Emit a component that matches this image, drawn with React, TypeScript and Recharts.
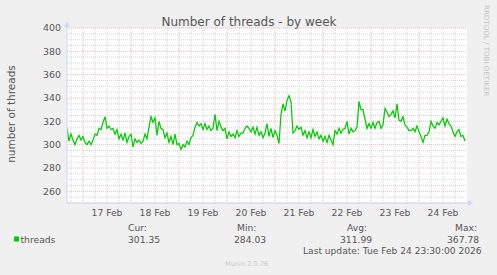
import React from 'react';
import { LineChart, Line, XAxis, YAxis, CartesianGrid, ReferenceDot } from 'recharts';

// hours relative to 17 Feb 00:00, one sample per hour
const firstHour = -8;
const threadValues = [
  314, 303, 309, 304, 300, 305, 308, 304, 307, 302,
  300, 303, 300, 304, 309, 308, 314, 313, 319, 324,
  314, 316, 313, 314, 309, 313, 305, 309, 304, 310,
  302, 307, 309, 298, 305, 302, 304, 301, 303, 309,
  305, 315, 324, 319, 323, 308, 320, 314, 313, 306,
  310, 302, 307, 300, 309, 300, 301, 296, 300, 298,
  303, 300, 306, 308, 315, 319, 316, 318, 313, 318,
  313, 316, 312, 314, 326, 312, 320, 315, 312, 314,
  305, 311, 307, 309, 306, 312, 307, 310, 310, 314,
  316, 314, 311, 315, 309, 315, 308, 311, 306, 310,
  318, 307, 314, 306, 312, 308, 301, 326, 335, 329,
  338, 342, 337, 310, 312, 316, 313, 315, 308, 312,
  306, 311, 306, 313, 307, 311, 305, 308, 303, 307,
  302, 308, 304, 300, 312, 309, 314, 310, 313, 314,
  320, 309, 314, 311, 312, 315, 337, 330, 330, 322,
  314, 318, 314, 319, 314, 319, 320, 314, 317, 331,
  328, 324, 326, 329, 323, 335, 321, 320, 324, 317,
  315, 312, 312, 314, 311, 316, 311, 307, 302, 308,
  308, 311, 320, 316, 314, 319, 317, 320, 323, 316,
  322, 318, 316, 311, 307, 311, 313, 307, 308, 303,
];

const dayLabels = ['17 Feb', '18 Feb', '19 Feb', '20 Feb', '21 Feb', '22 Feb', '23 Feb', '24 Feb'];
const dayLabelHours = [12, 36, 60, 84, 108, 132, 156, 180];
const yTicks = [260, 280, 300, 320, 340, 360, 380, 400];
const statLabels = ['Cur:', 'Min:', 'Avg:', 'Max:'];
const statValues = ['301.35', '284.03', '311.99', '367.78'];
const seriesName = 'threads';
const titleText = 'Number of threads - by week';
const yLabelText = 'number of threads';
const lastUpdateText = 'Last update: Tue Feb 24 23:30:00 2026';
const footerText = 'Munin 2.0.76';
const sideText = 'RRDTOOL / TOBI OETIKER';

const data = threadValues.map((v, i) => ({ hour: firstHour + i, threads: v }));

const minorY: number[] = [];
for (let v = 250; v <= 400; v += 5) if (v % 20 !== 0) minorY.push(v);
const majorY: number[] = [];
for (let v = 260; v <= 400; v += 20) majorY.push(v);
const minorX: number[] = [];
for (let h = -6; h < 192; h += 6) if (h % 24 !== 0) minorX.push(h);
const majorX: number[] = [];
for (let h = 0; h < 192; h += 24) majorX.push(h);

const FONT = '"DejaVu Sans", sans-serif';
const AXIS = '#CFD6F8';
const TXT = '#555555';
const GREEN = '#00CC00';

const statLabelX = [128, 237, 347, 455];
const statValueX = [128, 234, 340, 447];

const RightArrow = (p: any) => (
  <g>
    <line x1={p.cx} y1={p.cy} x2={p.cx + 3} y2={p.cy} stroke={AXIS} />
    <polygon points={`${p.cx + 1},${p.cy - 3} ${p.cx + 1},${p.cy + 3} ${p.cx + 6},${p.cy}`} fill={AXIS} />
  </g>
);
const UpArrow = (p: any) => (
  <g>
    <line x1={p.cx} y1={p.cy} x2={p.cx} y2={p.cy - 3} stroke={AXIS} />
    <polygon points={`${p.cx - 3},${p.cy - 1} ${p.cx + 3},${p.cy - 1} ${p.cx},${p.cy - 7}`} fill={AXIS} />
  </g>
);

export default function App() {
  return (
    <div style={{ position: 'absolute', left: 0, top: 0, width: 497, height: 275, background: '#F0F0F0', overflow: 'hidden' }}>
      <LineChart width={497} height={275} data={data} margin={{ top: 28, right: 30, bottom: 52, left: 7 }}>
        <CartesianGrid
          fill="#ffffff"
          stroke="#d6d6d6"
          strokeDasharray="1 1"
          horizontalValues={minorY}
          verticalValues={minorX}
        />
        <CartesianGrid
          fill="none"
          stroke="#eebcbc"
          strokeDasharray="1 1"
          horizontalValues={majorY}
          verticalValues={majorX}
        />
        <XAxis
          dataKey="hour"
          type="number"
          domain={[-8, 192]}
          allowDataOverflow
          ticks={dayLabelHours}
          tickFormatter={(h: number) => dayLabels[dayLabelHours.indexOf(h)] ?? ''}
          axisLine={{ stroke: AXIS }}
          tickLine={false}
          tickSize={0}
          tickMargin={6}
          height={20}
          tick={{ fill: TXT, fontSize: 9.2, fontFamily: FONT }}
          interval={0}
        />
        <YAxis
          type="number"
          domain={[250, 400]}
          allowDataOverflow
          ticks={yTicks}
          axisLine={{ stroke: AXIS }}
          tickLine={false}
          tickSize={0}
          tickMargin={6}
          width={60}
          tick={{ fill: TXT, fontSize: 9.4, fontFamily: FONT }}
          interval={0}
        />
        <Line
          type="linear"
          dataKey="threads"
          stroke={GREEN}
          strokeWidth={1.25}
          dot={false}
          isAnimationActive={false}
        />
        <ReferenceDot x={192} y={250} ifOverflow="visible" shape={RightArrow} />
        <ReferenceDot x={-8} y={400} ifOverflow="visible" shape={UpArrow} />
      </LineChart>
      <svg width={497} height={275} style={{ position: 'absolute', left: 0, top: 0, pointerEvents: 'none' }}>
        <text x={249} y={26} textAnchor="middle" fontFamily={FONT} fontSize={12} fill={TXT}>{titleText}</text>
        <text transform="translate(15,114) rotate(-90)" textAnchor="middle" fontFamily={FONT} fontSize={10.5} fill={TXT}>{yLabelText}</text>
        <text transform="translate(483.5,5) rotate(90)" textAnchor="start" fontFamily={FONT} fontSize={7.1} fill="#c4c4c4">{sideText}</text>
        <rect x={14} y={236.5} width={5} height={5} fill={GREEN} />
        <text x={20.5} y={243} fontFamily={FONT} fontSize={9.2} fill={TXT}>{seriesName}</text>
        {statLabels.map((s, i) => (
          <text key={s} x={statLabelX[i]} y={230.5} fontFamily={FONT} fontSize={9.2} fill={TXT}>{s}</text>
        ))}
        {statValues.map((s, i) => (
          <text key={s} x={statValueX[i]} y={243} fontFamily={FONT} fontSize={9.2} fill={TXT}>{s}</text>
        ))}
        <text x={303} y={253.5} fontFamily={FONT} fontSize={9.1} fill={TXT}>{lastUpdateText}</text>
        <text x={225} y={265.5} fontFamily={FONT} fontSize={6.6} fill="#c8c8c8">{footerText}</text>
      </svg>
    </div>
  );
}
